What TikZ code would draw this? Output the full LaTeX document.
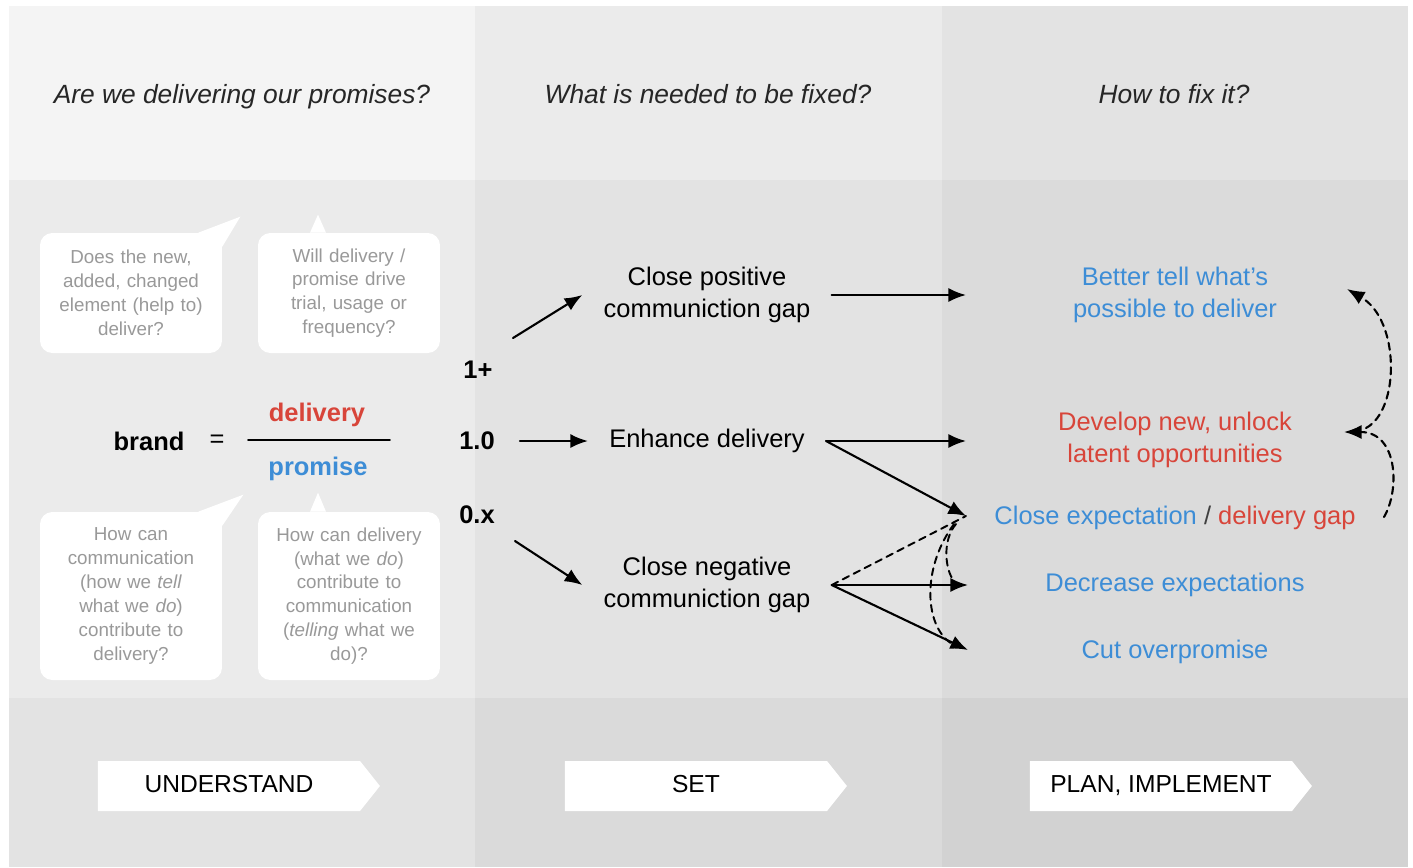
\documentclass[tikz,border=0pt]{standalone}
\usepackage{fontspec}
\setmainfont{Liberation Sans}
\usetikzlibrary{arrows.meta,calc,shapes.symbols}

\definecolor{hdA}{HTML}{F4F4F4}
\definecolor{hdB}{HTML}{EBEBEB}
\definecolor{hdC}{HTML}{E3E3E3}
\definecolor{mdA}{HTML}{EBEBEB}
\definecolor{mdB}{HTML}{E3E3E3}
\definecolor{mdC}{HTML}{DBDBDB}
\definecolor{btA}{HTML}{E3E3E3}
\definecolor{btB}{HTML}{DADADA}
\definecolor{btC}{HTML}{D2D2D2}
\definecolor{bubtext}{HTML}{999999}
\definecolor{promblue}{HTML}{3D8DD6}
\definecolor{delred}{HTML}{D8453A}

\begin{document}
\begin{tikzpicture}[
  x=0.02cm, y=-0.02cm,
  font=\fontsize{14.5}{18.1}\selectfont,
  bubble/.style={fill=white,rounded corners=7pt,align=center,text width=3.3cm,
    minimum width=3.64cm,inner sep=0pt,text=bubtext,
    font=\fontsize{10.7}{13.6}\selectfont},
  question/.style={font=\fontsize{15}{18}\selectfont\itshape,text=black!85,
    text height=1.8ex,text depth=.5ex},
  gapbox/.style={align=center,inner xsep=0.42cm,inner ysep=2pt},
  fix/.style={align=center,inner sep=0pt,text=promblue},
  ratio/.style={font=\fontsize{14.5}{18}\selectfont\bfseries},
  stage/.style={signal,signal to=east,signal pointer angle=103,fill=white,
    minimum width=5.64cm,minimum height=1cm,inner sep=0pt,
    text height=1.7ex,text depth=.3ex,font=\fontsize{14}{16}\selectfont},
  conn/.style={-{Latex[length=10pt,width=8pt]},line width=1.2pt},
  loop/.style={-{Latex[length=10pt,width=8pt]},line width=1.2pt,
    dash pattern=on 4pt off 3pt},
  every path/.style={line cap=round,line join=round}
]
  \useasboundingbox (0,0) rectangle (1413,867);
  \fill[white] (0,0) rectangle (1413,867);
  \fill[hdA] (9,6) rectangle (475,180);
  \fill[hdB] (475,6) rectangle (942,180);
  \fill[hdC] (942,6) rectangle (1408,180);
  \fill[mdA] (9,180) rectangle (475,698);
  \fill[mdB] (475,180) rectangle (942,698);
  \fill[mdC] (942,180) rectangle (1408,698);
  \fill[btA] (9,698) rectangle (475,867);
  \fill[btB] (475,698) rectangle (942,867);
  \fill[btC] (942,698) rectangle (1408,867);

  \node[question] (askA) at (242,97) {Are we delivering our promises?};
  \node[question] (askB) at (708,97) {What is needed to be fixed?};
  \node[question] (askC) at (1174,97) {How to fix it?};

  \node[bubble,minimum height=2.4cm] (bubA) at (131,293)
    {Does the new,\\added, changed\\element (help to)\\deliver?};
  \node[bubble,minimum height=2.4cm] (bubB) at (349,293)
    {Will delivery /\\promise drive\\trial, usage or\\frequency?};
  \node[bubble,minimum height=3.36cm] (bubC) at (131,596)
    {How can\\communication\\(how we \textit{tell}\\what we \textit{do})\\contribute to\\delivery?};
  \node[bubble,minimum height=3.36cm] (bubD) at (349,596)
    {How can delivery\\(what we \textit{do})\\contribute to\\communication\\(\textit{telling} what we\\do)?};
  \fill[white] ($(bubA.north east)+(-24,0)$) -- ($(bubA.north east)+(18,-16)$)
    -- ($(bubA.north east)+(0,14)$) -- cycle;
  \fill[white] ($(bubB.north)+(-39,0)$) -- ($(bubB.north)+(-31,-18)$)
    -- ($(bubB.north)+(-23,0)$) -- cycle;
  \fill[white] ($(bubC.north east)+(-24,0)$) -- ($(bubC.north east)+(21,-17)$)
    -- ($(bubC.north east)+(0,14)$) -- cycle;
  \fill[white] ($(bubD.north)+(-39,0)$) -- ($(bubD.north)+(-31,-19)$)
    -- ($(bubD.north)+(-23,0)$) -- cycle;

  \node[ratio] (brand) at (149,441) {brand};
  \node (equals) at (217,441) {=};
  \node[ratio,text=delred] (deliv) at (317,415) {delivery};
  \node[ratio,text=promblue] (prom) at (318,469) {promise};
  \draw[line width=1.1pt] (248,440) -- (390,440);

  \node[ratio] (up) at (478,370) {1+};
  \node[ratio] (even) at (477,441) {1.0};
  \node[ratio] (down) at (477,515) {0.x};
  \coordinate (upStart) at (513,338);
  \coordinate (downStart) at (515,541);

  \node[gapbox] (pos) at (707,295) {Close positive\\communiction gap};
  \node[gapbox] (enhance) at (707,441) {Enhance delivery};
  \node[gapbox] (neg) at (707,585) {Close negative\\communiction gap};

  \draw[conn] (upStart) -- (pos.west);
  \draw[conn] (even.east) ++(19,0) -- (enhance.west);
  \draw[conn] (downStart) -- (neg.west);

  \node[fix] (better) at (1175,295) {Better tell what's\\possible to deliver};
  \node[fix,text=delred] (develop) at (1175,440)
    {Develop new, unlock\\latent opportunities};
  \node[fix] (closegap) at (1175,518)
    {Close expectation {\color{black!75}/} {\color{delred}delivery gap}};
  \node[fix] (decrease) at (1175,585) {Decrease expectations};
  \node[fix] (cut) at (1175,652) {Cut overpromise};

  \coordinate (toBetter) at (966,295);
  \coordinate (toDevelop) at (966,441);
  \coordinate (toGap) at (966,516);
  \coordinate (toDecrease) at (968,585);
  \coordinate (toCut) at (968,650);

  \draw[conn] (pos.east) -- (toBetter);
  \draw[conn] (enhance.east) -- (toDevelop);
  \draw[conn] (enhance.east) -- (toGap);
  \draw[conn] (neg.east) -- (toDecrease);
  \draw[conn] (neg.east) -- (toCut);
  \draw[line width=1.1pt,dash pattern=on 4pt off 3pt] (neg.east) -- (toGap);
  \draw[line width=1.1pt,dash pattern=on 4pt off 3pt]
    ($(toGap)+(-10,8)$) .. controls (942,540) and (945,570) .. ($(toDecrease)+(-14,-4)$);
  \draw[line width=1.1pt,dash pattern=on 4pt off 3pt]
    ($(toGap)+(-12,8)$) .. controls (920,570) and (925,630) .. ($(toCut)+(-14,-5)$);

  \coordinate (gapTail) at (1384,517);
  \coordinate (devHead) at (1344,432);
  \coordinate (devTail) at (1366,428);
  \coordinate (betterHead) at (1347,289);
  \draw[loop] (gapTail) .. controls (1400,490) and (1398,432) .. (devHead);
  \draw[loop] (devTail) .. controls (1400,410) and (1400,320) .. (betterHead);

  \node[stage] (understand) at (229,786) {UNDERSTAND};
  \node[stage] (set) at (696,786) {SET};
  \node[stage] (plan) at (1161,786) {PLAN, IMPLEMENT};
\end{tikzpicture}
\end{document}
